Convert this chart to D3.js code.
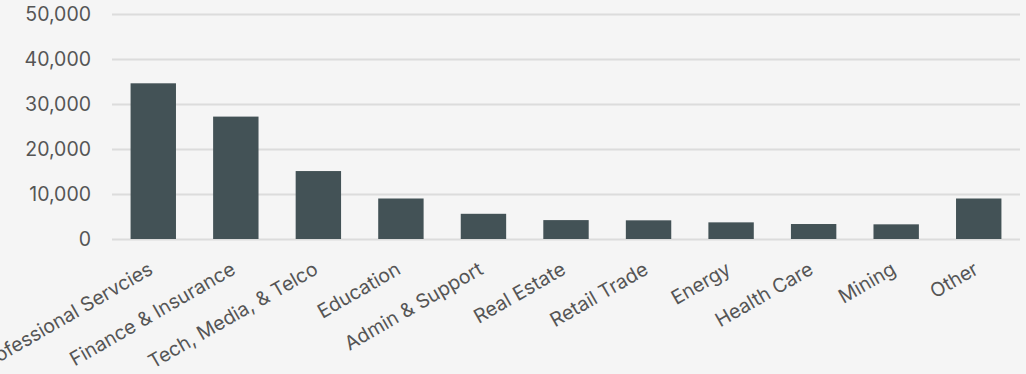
<!DOCTYPE html>
<html>
<head>
<meta charset="utf-8">
<script src="https://cdn.jsdelivr.net/npm/d3@7"></script>
<style>
  body { margin: 0; background: #f5f5f5; }
  svg { display: block; }
</style>
</head>
<body>
<div class="chart"></div>
<script>
"use strict";

// data
var industries = ['Professional Servcies', 'Finance & Insurance', 'Tech, Media, & Telco',
  'Education', 'Admin & Support', 'Real Estate', 'Retail Trade', 'Energy',
  'Health Care', 'Mining', 'Other'];
var counts = [34600, 27200, 15100, 9000, 5600, 4200, 4150, 3700, 3330, 3260, 9000];
var yTicks = [0, 10000, 20000, 30000, 40000, 50000];

var width = 1026;
var height = 374;
var margin = {top: 14, right: 6, bottom: 135, left: 112};
var labelFont = 'Inter, "Noto Sans", sans-serif';

var svg = d3.select('.chart')
            .append('svg')
            .attr('width', width)
            .attr('height', height);

var x = d3.scaleBand()
          .domain(industries)
          .range([margin.left, width - margin.right])
          .paddingInner(0.45)
          .paddingOuter(0.225);

var y = d3.scaleLinear()
          .domain([0, 50000])
          .range([height - margin.bottom, margin.top]);

// gridlines + y labels
var yAxis = svg.append('g')
  .attr('transform', 'translate(' + margin.left + ',0)')
  .call(d3.axisLeft(y)
          .tickValues(yTicks)
          .tickSize(-(width - margin.left - margin.right))
          .tickPadding(21)
          .tickFormat(d3.format(',')));

yAxis.select('.domain').remove();
yAxis.selectAll('line').attr('stroke', '#dcdcdc').attr('stroke-width', 2);
yAxis.selectAll('text')
     .attr('fill', '#555')
     .style('font-family', labelFont)
     .style('font-size', '19.5px');

// bars
svg.selectAll('.bar')
   .data(counts)
   .enter().append('rect')
   .attr('class', 'bar')
   .attr('x', function(d, i) { return x(industries[i]) })
   .attr('width', x.bandwidth())
   .attr('y', function(d) { return y(d) })
   .attr('height', function(d) { return y(0) - y(d) })
   .attr('fill', '#435256');

// rotated category labels (first one runs off the left edge, as in the original)
var xAxis = svg.append('g')
  .attr('transform', 'translate(0,' + y(0) + ')')
  .call(d3.axisBottom(x).tickSize(0).tickPadding(0));

xAxis.select('.domain').remove();
xAxis.selectAll('text')
     .attr('fill', '#555')
     .style('font-family', labelFont)
     .style('font-size', '19.5px')
     .attr('text-anchor', 'end')
     .attr('dy', null)
     .attr('transform', 'translate(1,34) rotate(-30)');
</script>
</body>
</html>
